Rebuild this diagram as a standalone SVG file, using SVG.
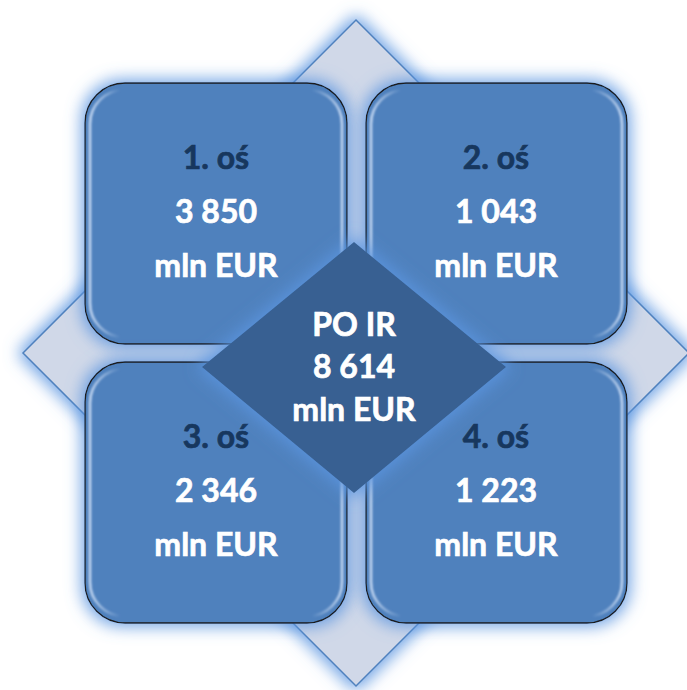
<svg xmlns="http://www.w3.org/2000/svg" width="687" height="690" viewBox="0 0 687 690">
<style>
.box{fill:#4f81bd;stroke:#1a1a1a;stroke-width:1.3}
.hl{fill:none;stroke:url(#hlg);stroke-width:2.5;filter:url(#soft)}
.t{font-family:Lato,"Open Sans","Liberation Sans",sans-serif;font-weight:bold;font-size:32px;text-anchor:middle;stroke-width:0.7}
.dk{fill:#17375e;stroke:#17375e}
.wt{fill:#ffffff;stroke:#ffffff}
</style>
<defs>
<filter id="glow" x="-20%" y="-20%" width="140%" height="140%">
<feMorphology in="SourceAlpha" operator="dilate" radius="3" result="d"/>
<feGaussianBlur in="d" stdDeviation="8" result="b"/>
<feFlood flood-color="#5b95e0" flood-opacity="0.85"/>
<feComposite in2="b" operator="in" result="g"/>
<feMerge><feMergeNode in="g"/><feMergeNode in="SourceGraphic"/></feMerge>
</filter>
<filter id="soft" x="-10%" y="-10%" width="120%" height="120%">
<feGaussianBlur stdDeviation="0.8"/>
</filter>
<linearGradient id="hlg" x1="0" y1="0" x2="1" y2="0">
<stop offset="0" stop-color="#cfe0f7" stop-opacity="0.95"/>
<stop offset="0.12" stop-color="#cfe0f7" stop-opacity="0"/>
<stop offset="0.88" stop-color="#cfe0f7" stop-opacity="0"/>
<stop offset="1" stop-color="#cfe0f7" stop-opacity="0.95"/>
</linearGradient>
</defs>
<rect width="687" height="690" fill="#ffffff"/>

<g id="background-diamond">
<polygon points="356,20 689,353 356,686 23,353" fill="#d0d8e8" stroke="#4f81bd" stroke-width="1.5" filter="url(#glow)"/>
</g>

<g id="box1">
<rect class="box" x="85" y="83" width="262" height="261" rx="40" filter="url(#glow)"/>
<rect class="hl" x="90" y="90" width="252" height="247" rx="34"/>
<text class="t dk" x="216" y="169">1. oś</text>
<text class="t wt" x="216" y="223">3 850</text>
<text class="t wt" x="216" y="277">mln EUR</text>
</g>

<g id="box2">
<rect class="box" x="366" y="83" width="261" height="261" rx="40" filter="url(#glow)"/>
<rect class="hl" x="371" y="90" width="251" height="247" rx="34"/>
<text class="t dk" x="496" y="169">2. oś</text>
<text class="t wt" x="496" y="223">1 043</text>
<text class="t wt" x="496" y="277">mln EUR</text>
</g>

<g id="box3">
<rect class="box" x="85" y="362" width="262" height="261" rx="40" filter="url(#glow)"/>
<rect class="hl" x="90" y="369" width="252" height="247" rx="34"/>
<text class="t dk" x="216" y="448">3. oś</text>
<text class="t wt" x="216" y="502">2 346</text>
<text class="t wt" x="216" y="556">mln EUR</text>
</g>

<g id="box4">
<rect class="box" x="366" y="362" width="261" height="261" rx="40" filter="url(#glow)"/>
<rect class="hl" x="371" y="369" width="251" height="247" rx="34"/>
<text class="t dk" x="496" y="448">4. oś</text>
<text class="t wt" x="496" y="502">1 223</text>
<text class="t wt" x="496" y="556">mln EUR</text>
</g>

<g id="center">
<polygon points="354,242 506,367 354,493 202,367" fill="#376092" filter="url(#glow)"/>
<text class="t wt" x="354" y="336">PO IR</text>
<text class="t wt" x="354" y="378">8 614</text>
<text class="t wt" x="354" y="421">mln EUR</text>
</g>

<g id="connectors"></g>
</svg>
